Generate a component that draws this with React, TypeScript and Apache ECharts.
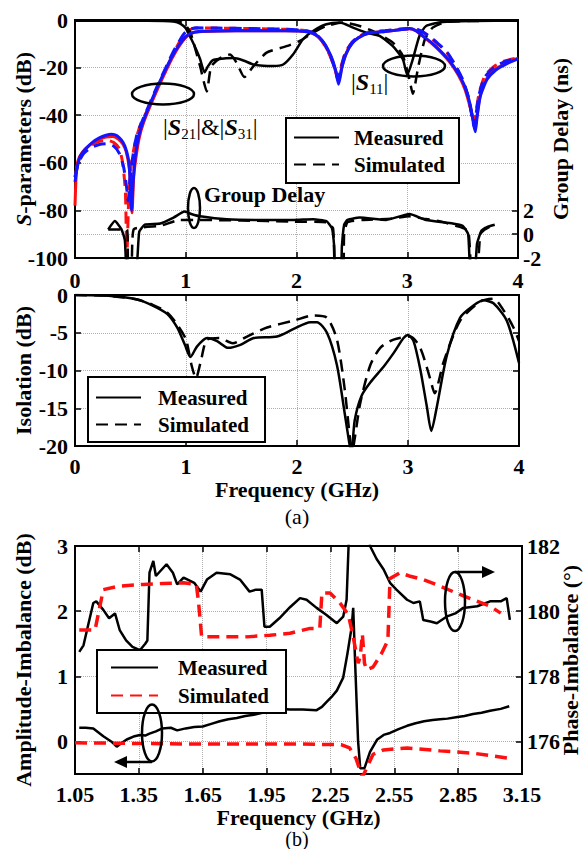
import React, { useEffect, useRef } from "react";
import * as echarts from "echarts";

type P = [number, number][];

// ---------- (a) top panel: S-parameters (dB) vs Frequency (GHz) ----------
const s21Meas: P = [[0,-68],[0.02,-62],[0.05,-57],[0.1,-54],[0.16,-51.3],[0.22,-49.5],[0.28,-48.4],[0.33,-48],[0.38,-48.6],[0.42,-50.5],[0.45,-53],[0.48,-58],[0.495,-65],[0.51,-80],[0.525,-68],[0.545,-57],[0.58,-48],[0.62,-42],[0.68,-35],[0.75,-27.5],[0.82,-20.5],[0.88,-15],[0.94,-10.5],[1.0,-7],[1.05,-5.5],[1.12,-4.8],[1.3,-4.6],[1.6,-4.5],[1.9,-4.5],[2.05,-4.7],[2.13,-5.3],[2.2,-7],[2.26,-10.5],[2.31,-15],[2.35,-20.5],[2.38,-27],[2.41,-20],[2.45,-14],[2.5,-10],[2.56,-7.5],[2.65,-5.6],[2.8,-4.8],[2.95,-4],[3.02,-3.6],[3.08,-4.5],[3.15,-7],[3.22,-9.5],[3.3,-13],[3.38,-17],[3.46,-22.5],[3.52,-28],[3.57,-36],[3.6,-44],[3.615,-47],[3.63,-41],[3.66,-32],[3.72,-25],[3.8,-21],[3.9,-18.3],[4,-16.3]];
const s31Meas: P = [[0,-78],[0.015,-62],[0.04,-57.5],[0.1,-53.8],[0.2,-50.5],[0.28,-49.2],[0.34,-49],[0.39,-50],[0.43,-52],[0.46,-55],[0.49,-62],[0.505,-72],[0.515,-81],[0.53,-66],[0.55,-58],[0.58,-49.5],[0.62,-43],[0.68,-36],[0.75,-28.5],[0.82,-21.5],[0.88,-15.8],[0.94,-11],[1.0,-7.3],[1.05,-5.6],[1.12,-4.9],[1.3,-4.6],[1.6,-4.5],[1.9,-4.5],[2.05,-4.7],[2.13,-5.3],[2.2,-7.3],[2.26,-11],[2.31,-15.5],[2.35,-21],[2.38,-26],[2.41,-19.5],[2.45,-13.8],[2.5,-9.8],[2.56,-7.4],[2.65,-5.6],[2.8,-4.8],[2.95,-4],[3.02,-3.7],[3.08,-4.6],[3.15,-7.2],[3.22,-9.8],[3.3,-13.3],[3.38,-17.5],[3.46,-23],[3.52,-29],[3.57,-37],[3.6,-43],[3.615,-45],[3.63,-40],[3.66,-31.5],[3.72,-24.5],[3.8,-20.5],[3.9,-18],[4,-16]];
const s21Sim: P = [[0,-66],[0.03,-60],[0.08,-56],[0.15,-53.5],[0.22,-52.3],[0.29,-52],[0.35,-53],[0.4,-56],[0.44,-62],[0.465,-70],[0.48,-76],[0.495,-68],[0.52,-58],[0.56,-48],[0.62,-41],[0.68,-34.5],[0.75,-27],[0.82,-20],[0.88,-14],[0.94,-9],[0.99,-5.5],[1.04,-3.8],[1.1,-3.3],[1.3,-3.4],[1.6,-3.6],[1.9,-3.9],[2.05,-4.3],[2.13,-5],[2.2,-7],[2.26,-10.5],[2.31,-15.5],[2.35,-21],[2.375,-25],[2.4,-20.5],[2.44,-14],[2.5,-9.5],[2.56,-7],[2.65,-5.3],[2.8,-4.5],[2.95,-3.8],[3.05,-3.5],[3.12,-4.5],[3.2,-6.8],[3.28,-10],[3.36,-13.5],[3.44,-19.5],[3.5,-25],[3.55,-32],[3.59,-42],[3.605,-45],[3.62,-40],[3.65,-31],[3.7,-24],[3.78,-20],[3.88,-17.5],[4,-16]];
const s31Sim: P = [[0,-66],[0.03,-60],[0.08,-55],[0.15,-52.5],[0.22,-51],[0.29,-50.5],[0.35,-51.5],[0.4,-54],[0.43,-60],[0.455,-72],[0.468,-100],[0.485,-75],[0.51,-60],[0.55,-50],[0.6,-43],[0.68,-35.5],[0.75,-28],[0.82,-21],[0.88,-15],[0.94,-9.5],[0.99,-6],[1.04,-4],[1.1,-3.4],[1.3,-3.4],[1.6,-3.6],[1.9,-3.9],[2.05,-4.3],[2.13,-5],[2.2,-7.2],[2.26,-10.8],[2.31,-15.8],[2.35,-21],[2.375,-24],[2.4,-20],[2.44,-13.8],[2.5,-9.4],[2.56,-7],[2.65,-5.3],[2.8,-4.5],[2.95,-3.8],[3.05,-3.5],[3.12,-4.6],[3.2,-7],[3.28,-10.2],[3.36,-13.8],[3.44,-19.8],[3.5,-25.5],[3.55,-32.5],[3.59,-41],[3.605,-44],[3.62,-39],[3.65,-30.5],[3.7,-23.5],[3.78,-19.6],[3.88,-17.2],[4,-15.8]];
const s11Meas: P = [[0,-0.3],[0.5,-0.3],[0.8,-0.4],[0.89,-0.6],[0.95,-1.5],[1.0,-3.5],[1.05,-8],[1.1,-13],[1.13,-16.5],[1.17,-22],[1.2,-19.5],[1.24,-17],[1.28,-16.5],[1.43,-16],[1.52,-17],[1.61,-18.7],[1.7,-19.2],[1.79,-19.3],[1.88,-18.7],[1.97,-14.4],[2.06,-8],[2.15,-4.6],[2.27,-1.8],[2.39,-1.1],[2.51,-3.2],[2.63,-5.3],[2.75,-6.7],[2.87,-11],[2.96,-16.5],[3.0,-23],[3.05,-16.5],[3.11,-6.7],[3.17,-2.5],[3.32,-0.8],[3.6,-0.4],[4,-0.3]];
const s11Sim: P = [[0,-0.3],[0.5,-0.3],[0.8,-0.3],[0.92,-0.4],[0.99,-1.8],[1.04,-5],[1.07,-9.5],[1.13,-19.5],[1.19,-30],[1.23,-19.5],[1.31,-16],[1.4,-14.5],[1.46,-18],[1.53,-24],[1.61,-19.5],[1.73,-13.7],[1.91,-11],[2.03,-8.8],[2.15,-5.3],[2.27,-2.5],[2.42,-1.1],[2.57,-2.5],[2.72,-5.3],[2.87,-9.5],[2.96,-15],[3.02,-25],[3.05,-31],[3.1,-19.5],[3.16,-8],[3.23,-3.2],[3.35,-0.8],[3.6,-0.4],[4,-0.3]];
// group delay (ns), right axis
const gdMeas: P = [[0.3,0.4],[0.36,1.1],[0.42,0.4],[0.45,-0.5],[0.47,-3],[0.55,-3],[0.58,0.2],[0.63,0.8],[0.77,0.9],[0.89,1.4],[0.99,1.9],[1.05,1.7],[1.13,1.5],[1.37,1.25],[1.7,1.2],[1.97,1.2],[2.15,1.25],[2.27,1.1],[2.32,0.5],[2.34,-1],[2.35,-3],[2.4,-3],[2.41,-1],[2.43,0.8],[2.46,1.2],[2.57,1.4],[2.81,1.2],[3.02,1.7],[3.17,1.2],[3.41,0.9],[3.5,0.7],[3.55,0],[3.57,-3],[3.61,-3],[3.63,-0.8],[3.67,0.3],[3.72,0.6],[3.79,0.8]];
const gdSim: P = [[0.3,0.4],[0.47,0.4],[0.48,-3],[0.51,-3],[0.53,0.4],[0.77,0.7],[0.95,1.2],[1.1,1.2],[1.5,1.15],[1.97,1.05],[2.27,1.0],[2.33,0.5],[2.35,-3],[2.42,-3],[2.43,0],[2.46,1.0],[2.6,1.2],[2.85,1.3],[3.02,1.5],[3.15,1.3],[3.29,1.1],[3.44,0.7],[3.55,0.3],[3.58,-3],[3.63,-3],[3.66,0],[3.7,0.4],[3.78,0.8]];

// ---------- (a) middle panel: Isolation (dB) ----------
const isoMeas: P = [[0,0],[0.3,-0.1],[0.56,-0.6],[0.7,-1.4],[0.83,-2.5],[0.92,-4.3],[0.99,-6.6],[1.04,-8.2],[1.1,-6.8],[1.19,-5.7],[1.28,-6.1],[1.38,-7],[1.49,-6.6],[1.61,-5.7],[1.82,-5.5],[1.97,-4.5],[2.12,-3.6],[2.18,-3.6],[2.27,-5],[2.36,-9.3],[2.43,-15.7],[2.47,-19.5],[2.49,-21],[2.52,-16.6],[2.58,-13.4],[2.66,-11.6],[2.78,-9.5],[2.87,-7.7],[2.96,-5.7],[3.0,-5.3],[3.05,-6.1],[3.11,-9.8],[3.17,-14.8],[3.21,-18],[3.26,-14.8],[3.35,-8],[3.47,-3],[3.59,-1.4],[3.68,-0.7],[3.77,-1.1],[3.89,-3.4],[4,-9]];
const isoSim: P = [[0,0],[0.3,-0.1],[0.56,-0.6],[0.7,-1.3],[0.83,-2.3],[0.92,-3.9],[1.0,-5.9],[1.05,-9.3],[1.09,-11],[1.13,-9],[1.19,-5.9],[1.3,-5.7],[1.42,-6.4],[1.55,-5.5],[1.73,-4.3],[1.97,-3.4],[2.15,-2.7],[2.27,-3],[2.36,-5.9],[2.43,-12.5],[2.48,-19.3],[2.5,-20.5],[2.52,-19],[2.57,-14.3],[2.66,-9.3],[2.75,-7],[2.87,-5.9],[3.02,-5.5],[3.11,-7],[3.2,-11.1],[3.24,-13],[3.32,-8.9],[3.47,-3.4],[3.65,-0.9],[3.77,-0.5],[3.86,-2],[3.95,-4.3],[4,-6.1]];

// ---------- (b) Amplitude-Imbalance (dB) & Phase-Imbalance (deg) ----------
const ampMeas: P = [[1.07,0.21],[1.1,0.21],[1.136,0.2],[1.183,0.08],[1.22,0.0],[1.246,-0.08],[1.27,-0.02],[1.293,0.03],[1.33,0.08],[1.355,0.1],[1.38,0.09],[1.4,0.12],[1.43,0.155],[1.46,0.2],[1.5,0.21],[1.53,0.17],[1.57,0.2],[1.61,0.22],[1.65,0.23],[1.69,0.27],[1.73,0.31],[1.77,0.34],[1.81,0.36],[1.85,0.39],[1.89,0.41],[1.93,0.44],[1.97,0.47],[2.01,0.5],[2.06,0.49],[2.12,0.49],[2.185,0.48],[2.21,0.53],[2.23,0.6],[2.26,0.7],[2.28,0.78],[2.31,0.98],[2.33,1.35],[2.35,1.76],[2.357,2.05],[2.368,1.04],[2.38,0],[2.39,-0.41],[2.41,-0.41],[2.436,-0.16],[2.47,0.03],[2.5,0.1],[2.53,0.13],[2.57,0.19],[2.61,0.24],[2.65,0.28],[2.69,0.31],[2.73,0.33],[2.765,0.34],[2.8,0.35],[2.84,0.37],[2.88,0.39],[2.92,0.42],[2.96,0.44],[3.0,0.47],[3.05,0.5],[3.09,0.54]];
const ampSim: P = [[1.05,-0.02],[1.3,-0.03],[1.6,-0.04],[1.9,-0.04],[2.1,-0.04],[2.3,-0.05],[2.34,-0.1],[2.37,-0.26],[2.4,-0.55],[2.42,-0.41],[2.45,-0.2],[2.5,-0.13],[2.61,-0.1],[2.765,-0.145],[2.92,-0.18],[3.09,-0.26]];
const phaseMeas: P = [[1.07,178.75],[1.09,178.95],[1.11,179.52],[1.136,180.25],[1.15,180.3],[1.183,180.04],[1.21,179.78],[1.238,179.93],[1.26,179.42],[1.29,179.1],[1.32,178.9],[1.355,178.8],[1.38,179.0],[1.39,179.1],[1.4,181.18],[1.418,181.54],[1.43,181.08],[1.48,181.44],[1.51,181.18],[1.53,180.82],[1.56,181.03],[1.61,180.87],[1.64,180.6],[1.67,180.97],[1.715,181.18],[1.78,181.13],[1.825,180.97],[1.87,180.6],[1.9,180.66],[1.927,180.66],[1.94,179.52],[1.965,179.52],[2.01,179.78],[2.06,180.12],[2.107,180.4],[2.138,180.35],[2.185,180.1],[2.23,179.89],[2.28,179.63],[2.31,179.83],[2.326,180.35],[2.338,182.5],[2.345,184],[2.42,184],[2.436,182],[2.467,181.6],[2.5,181.28],[2.53,180.87],[2.56,180.66],[2.61,180.35],[2.64,180.25],[2.67,180.3],[2.686,179.73],[2.72,179.68],[2.75,179.63],[2.795,179.83],[2.84,179.94],[2.874,180.1],[2.94,180.15],[3.0,180.3],[3.05,180.3],[3.078,180.4],[3.093,179.73]];
const phaseSim: P = [[1.07,179.42],[1.144,179.42],[1.183,180.66],[1.26,180.77],[1.37,180.82],[1.465,180.85],[1.56,180.87],[1.62,180.82],[1.63,180.3],[1.645,179.21],[1.73,179.21],[1.855,179.21],[1.965,179.26],[2.06,179.32],[2.154,179.47],[2.2,179.47],[2.21,180.56],[2.248,180.56],[2.295,180.25],[2.334,179.89],[2.357,179.21],[2.38,178.4],[2.39,178.6],[2.4,179.3],[2.41,178.4],[2.42,178.2],[2.45,178.28],[2.49,178.7],[2.52,179.1],[2.53,181.0],[2.577,181.18],[2.62,181.08],[2.686,180.97],[2.765,180.77],[2.84,180.56],[2.92,180.35],[3.0,180.15],[3.05,179.94]];

// axis ticks
const gdTicks = [-2, 0, 2];
const ampTicks = [0, 1, 2, 3];
const phaseTicks = [176, 178, 180, 182];

const FONT = "Liberation Serif";
const GRIDLINE = { show: true, lineStyle: { color: "#b0b0b0", type: "dotted" as const, width: 1 } };
const LABEL = { color: "#000", fontFamily: FONT, fontWeight: "bold" as const, fontSize: 22 };
const NAME = { color: "#000", fontFamily: FONT, fontWeight: "bold" as const, fontSize: 22 };
const TICK = { show: true, inside: true, length: 6, lineStyle: { color: "#000", width: 1.5 } };
const AXLINE = { show: true, onZero: false, lineStyle: { color: "#000", width: 2 } };

function ln(name: string, data: P, xi: number, yi: number, color: string, dashed: boolean, width: number, z = 2, smooth: number | boolean = false) {
  return {
    type: "line", name, data, xAxisIndex: xi, yAxisIndex: yi, symbol: "none", showSymbol: false,
    smooth, clip: true, z, silent: true, animation: false,
    lineStyle: { color, width, type: dashed ? [12, 7] : "solid", cap: "butt" },
    itemStyle: { color },
  };
}

function legend(left: number, top: number, names: string[], padding: number[], itemWidth: number, gap: number, textPad: number) {
  return {
    show: true, orient: "vertical", left, top, data: names, itemWidth, itemHeight: 16, itemGap: gap,
    padding, borderColor: "#000", borderWidth: 2, backgroundColor: "#fff", selectedMode: false,
    itemStyle: { opacity: 0, borderWidth: 0 },
    formatter: (n: string) => n.trim(),
    textStyle: { ...NAME, fontSize: 21, padding: [0, 0, 0, textPad] },
  };
}

export default function App() {
  const ref = useRef<HTMLDivElement>(null);
  useEffect(() => {
    if (!ref.current) return;
    const chart = echarts.init(ref.current, undefined, { renderer: "svg" });
    const option: any = {
      animation: false,
      backgroundColor: "#fff",
      textStyle: { fontFamily: FONT },
      grid: [
        { left: 75, top: 20, width: 443, height: 238, show: true, borderColor: "#000", borderWidth: 2, outerBoundsMode: "none" },
        { left: 75, top: 295, width: 444, height: 151, show: true, borderColor: "#000", borderWidth: 2, outerBoundsMode: "none" },
        { left: 75, top: 546, width: 447, height: 228, show: true, borderColor: "#000", borderWidth: 2, outerBoundsMode: "none" },
      ],
      xAxis: [
        { type: "value", gridIndex: 0, min: 0, max: 4, interval: 1, axisLine: AXLINE, axisTick: TICK, axisLabel: { ...LABEL, margin: 11 }, splitLine: GRIDLINE },
        { type: "value", gridIndex: 0, position: "top", min: 0, max: 4, interval: 1, axisLine: AXLINE, axisTick: TICK, axisLabel: { show: false }, splitLine: { show: false } },
        { type: "value", gridIndex: 1, min: 0, max: 4, interval: 1, axisLine: AXLINE, axisTick: TICK, axisLabel: { ...LABEL, margin: 9 }, splitLine: GRIDLINE,
          name: "Frequency (GHz)", nameLocation: "middle", nameGap: 32, nameMoveOverlap: false, nameTextStyle: NAME },
        { type: "value", gridIndex: 1, position: "top", min: 0, max: 4, interval: 1, axisLine: AXLINE, axisTick: TICK, axisLabel: { show: false }, splitLine: { show: false } },
        { type: "value", gridIndex: 2, min: 1.05, max: 3.15, interval: 0.3, axisLine: AXLINE, axisTick: TICK,
          axisLabel: { ...LABEL, margin: 9, formatter: (v: number) => v.toFixed(2) }, splitLine: GRIDLINE,
          name: "Frequency (GHz)", nameLocation: "middle", nameGap: 32, nameMoveOverlap: false, nameTextStyle: NAME },
        { type: "value", gridIndex: 2, position: "top", min: 1.05, max: 3.15, interval: 0.3, axisLine: AXLINE, axisTick: TICK, axisLabel: { show: false }, splitLine: { show: false } },
      ],
      yAxis: [
        { type: "value", gridIndex: 0, min: -100, max: 0, interval: 20, axisLine: AXLINE, axisTick: TICK, axisLabel: { ...LABEL, margin: 7 }, splitLine: GRIDLINE,
          name: "{i|S}-parameters (dB)", nameLocation: "middle", nameGap: 41, nameMoveOverlap: false,
          nameTextStyle: { ...NAME, rich: { i: { ...NAME, fontStyle: "italic" } } } },
        { type: "value", gridIndex: 0, position: "right", min: -2, max: 18, axisLine: AXLINE,
          axisTick: { ...TICK, customValues: gdTicks }, axisLabel: { ...LABEL, margin: 5, customValues: gdTicks }, splitLine: GRIDLINE,
          name: "Group Delay (ns)", nameLocation: "middle", nameGap: 31, nameMoveOverlap: false, nameTextStyle: NAME },
        { type: "value", gridIndex: 1, min: -20, max: 0, interval: 5, axisLine: AXLINE, axisTick: TICK, axisLabel: { ...LABEL, margin: 7 }, splitLine: GRIDLINE,
          name: "Isolation (dB)", nameLocation: "middle", nameGap: 41, nameMoveOverlap: false, nameTextStyle: NAME },
        { type: "value", gridIndex: 1, position: "right", min: -20, max: 0, interval: 5, axisLine: AXLINE, axisTick: TICK, axisLabel: { show: false }, splitLine: { show: false } },
        { type: "value", gridIndex: 2, min: -0.5, max: 3, axisLine: AXLINE, axisTick: { ...TICK, customValues: ampTicks },
          axisLabel: { ...LABEL, margin: 7, customValues: ampTicks }, splitLine: GRIDLINE,
          name: "Amplitude-Imbalance (dB)", nameLocation: "middle", nameGap: 41, nameMoveOverlap: false, nameTextStyle: NAME },
        { type: "value", gridIndex: 2, position: "right", min: 175, max: 182, axisLine: AXLINE, axisTick: { ...TICK, customValues: phaseTicks },
          axisLabel: { ...LABEL, margin: 5, customValues: phaseTicks }, splitLine: { show: false },
          name: "Phase-Imbalance (°)", nameLocation: "middle", nameGap: 37, nameMoveOverlap: false, nameTextStyle: NAME },
      ],
      legend: [
        legend(286, 118, ["Measured", "Simulated"], [9, 14, 8, 7], 45, 6, 10),
        legend(88, 377, ["Measured ", "Simulated "], [10, 16, 7, 7], 45, 6, 12),
        legend(97, 650, ["Measured  ", "Simulated  "], [7, 17, 7, 13], 47, 7, 15),
      ],
      series: [
        ln("S31 simulated", s31Sim, 0, 0, "#ff1010", true, 3, 2, 0.2),
        ln("S31 measured", s31Meas, 0, 0, "#ff1010", false, 3, 2, 0.2),
        ln("S21 simulated", s21Sim, 0, 0, "#1414ff", true, 3, 3, 0.2),
        ln("S21 measured", s21Meas, 0, 0, "#1414ff", false, 3, 3, 0.2),
        ln("S11 measured", s11Meas, 0, 0, "#000", false, 2.5, 2, 0.2),
        ln("S11 simulated", s11Sim, 0, 0, "#000", true, 2.5, 2, 0.2),
        ln("GD measured", gdMeas, 0, 1, "#000", false, 2.5, 2, 0.15),
        ln("GD simulated", gdSim, 0, 1, "#000", true, 2.5, 2, 0.15),
        ln("Iso measured", isoMeas, 2, 2, "#000", false, 2.5, 2, 0.25),
        ln("Iso simulated", isoSim, 2, 2, "#000", true, 2.5, 2, 0.25),
        ln("Amp measured", ampMeas, 4, 4, "#000", false, 2.5),
        ln("Amp simulated", ampSim, 4, 4, "#ff1010", true, 3.5),
        ln("Phase measured", phaseMeas, 4, 5, "#000", false, 2.5),
        ln("Phase simulated", phaseSim, 4, 5, "#ff1010", true, 3.5),
        // legend entries
        ln("Measured", [], 0, 0, "#000", false, 2.5),
        ln("Simulated", [], 0, 0, "#000", true, 2.5),
        ln("Measured ", [], 2, 2, "#000", false, 2.5),
        ln("Simulated ", [], 2, 2, "#000", true, 2.5),
        ln("Measured  ", [], 4, 4, "#000", false, 2.5),
        ln("Simulated  ", [], 4, 4, "#ff1010", true, 3.5),
      ],
      graphic: [
        { type: "ellipse", shape: { cx: 163, cy: 94, rx: 31, ry: 10.5 }, style: { fill: "none", stroke: "#000", lineWidth: 2.5 }, z: 10 },
        { type: "ellipse", shape: { cx: 414, cy: 66, rx: 31, ry: 10.5 }, style: { fill: "none", stroke: "#000", lineWidth: 2.5 }, z: 10 },
        { type: "ellipse", shape: { cx: 194, cy: 208, rx: 6, ry: 20 }, style: { fill: "none", stroke: "#000", lineWidth: 2.5 }, z: 10 },
        { type: "text", x: 163, y: 127, z: 10, style: {
            text: "|{s|S}{b|21}|&|{s|S}{b|31}|", fill: "#000", fontFamily: FONT, fontSize: 24, verticalAlign: "middle",
            rich: { s: { fontFamily: FONT, fontSize: 24, fontStyle: "italic", fontWeight: "bold", lineHeight: 28 },
                    b: { fontFamily: FONT, fontSize: 15, verticalAlign: "bottom", lineHeight: 22 } } } },
        { type: "text", x: 351, y: 82, z: 10, style: {
            text: "|{s|S}{b|11}|", fill: "#000", fontFamily: FONT, fontSize: 24, verticalAlign: "middle",
            rich: { s: { fontFamily: FONT, fontSize: 24, fontStyle: "italic", fontWeight: "bold", lineHeight: 28 },
                    b: { fontFamily: FONT, fontSize: 15, verticalAlign: "bottom", lineHeight: 22 } } } },
        { type: "text", x: 204, y: 194, z: 10, style: { text: "Group Delay", fill: "#000", fontFamily: FONT, fontWeight: "bold", fontSize: 22, verticalAlign: "middle" } },
        { type: "text", x: 297, y: 516, z: 10, style: { text: "(a)", fill: "#000", fontFamily: FONT, fontSize: 22, align: "center", verticalAlign: "middle" } },
        { type: "text", x: 297, y: 839, z: 10, style: { text: "(b)", fill: "#000", fontFamily: FONT, fontSize: 20, align: "center", verticalAlign: "middle" } },
        // (b) annotations
        { type: "ellipse", shape: { cx: 152, cy: 733, rx: 10, ry: 28.5 }, style: { fill: "none", stroke: "#000", lineWidth: 2.5 }, z: 10 },
        { type: "line", shape: { x1: 125, y1: 762, x2: 152, y2: 762 }, style: { stroke: "#000", lineWidth: 2.5 }, z: 10 },
        { type: "polygon", shape: { points: [[114, 762], [127, 756], [127, 768]] }, style: { fill: "#000" }, z: 10 },
        { type: "ellipse", shape: { cx: 455, cy: 601.5, rx: 10, ry: 29.5 }, style: { fill: "none", stroke: "#000", lineWidth: 2.5 }, z: 10 },
        { type: "line", shape: { x1: 455, y1: 572, x2: 483, y2: 572 }, style: { stroke: "#000", lineWidth: 2.5 }, z: 10 },
        { type: "polygon", shape: { points: [[495, 572], [482, 566], [482, 578]] }, style: { fill: "#000" }, z: 10 },
      ],
    };
    chart.setOption(option);
    return () => chart.dispose();
  }, []);
  return <div ref={ref} style={{ position: "fixed", left: 0, top: 0, width: 585, height: 849, background: "#fff" }} />;
}
